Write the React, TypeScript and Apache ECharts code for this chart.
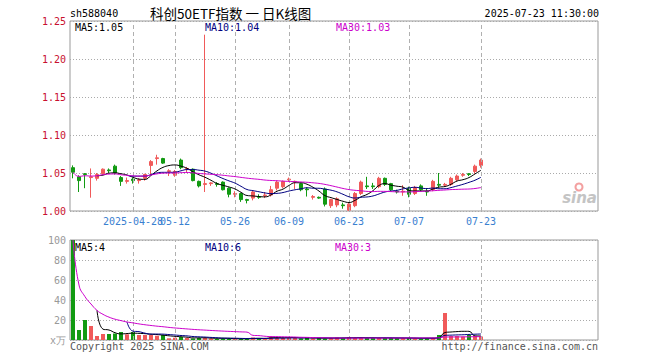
import React, { useEffect, useRef } from "react";
import * as echarts from "echarts";

const dates: string[] = [
  "2025-04-14", "2025-04-15", "2025-04-16", "2025-04-17", "2025-04-18",
  "2025-04-21", "2025-04-22", "2025-04-23", "2025-04-24", "2025-04-25",
  "2025-04-28", "2025-04-29", "2025-04-30", "2025-05-06", "2025-05-07",
  "2025-05-08", "2025-05-09", "2025-05-12", "2025-05-13", "2025-05-14",
  "2025-05-15", "2025-05-16", "2025-05-19", "2025-05-20", "2025-05-21",
  "2025-05-22", "2025-05-23", "2025-05-26", "2025-05-27", "2025-05-28",
  "2025-05-29", "2025-05-30", "2025-06-03", "2025-06-04", "2025-06-05",
  "2025-06-06", "2025-06-09", "2025-06-10", "2025-06-11", "2025-06-12",
  "2025-06-13", "2025-06-16", "2025-06-17", "2025-06-18", "2025-06-19",
  "2025-06-20", "2025-06-23", "2025-06-24", "2025-06-25", "2025-06-26",
  "2025-06-27", "2025-06-30", "2025-07-01", "2025-07-02", "2025-07-03",
  "2025-07-04", "2025-07-07", "2025-07-08", "2025-07-09", "2025-07-10",
  "2025-07-11", "2025-07-14", "2025-07-15", "2025-07-16", "2025-07-17",
  "2025-07-18", "2025-07-21", "2025-07-22", "2025-07-23",
];

// [open, close, low, high]
const ohlc: number[][] = [
  [1.057, 1.051, 1.043, 1.060], [1.045, 1.040, 1.025, 1.047], [1.049, 1.048, 1.030, 1.050],
  [1.044, 1.045, 1.0175, 1.056], [1.043, 1.048, 1.040, 1.050], [1.049, 1.055, 1.048, 1.056],
  [1.054, 1.053, 1.050, 1.056], [1.059, 1.050, 1.048, 1.061], [1.044, 1.039, 1.033, 1.046],
  [1.039, 1.040, 1.036, 1.044], [1.042, 1.040, 1.036, 1.044], [1.040, 1.041, 1.036, 1.043],
  [1.043, 1.048, 1.040, 1.049], [1.060, 1.065, 1.048, 1.067], [1.069, 1.070, 1.061, 1.074],
  [1.069, 1.063, 1.062, 1.070], [1.052, 1.053, 1.046, 1.055], [1.047, 1.052, 1.045, 1.054],
  [1.067, 1.057, 1.055, 1.069], [1.055, 1.056, 1.051, 1.058], [1.055, 1.040, 1.039, 1.056],
  [1.039, 1.033, 1.031, 1.040], [1.035, 1.036, 1.025, 1.232], [1.036, 1.037, 1.033, 1.038],
  [1.036, 1.035, 1.032, 1.038], [1.038, 1.028, 1.027, 1.039], [1.030, 1.022, 1.018, 1.031],
  [1.022, 1.023, 1.018, 1.026], [1.023, 1.015, 1.012, 1.024], [1.015, 1.014, 1.010, 1.016],
  [1.017, 1.025, 1.014, 1.027], [1.019, 1.018, 1.016, 1.022], [1.020, 1.021, 1.017, 1.025],
  [1.021, 1.028, 1.019, 1.033], [1.030, 1.038, 1.027, 1.040], [1.032, 1.039, 1.030, 1.040],
  [1.041, 1.042, 1.039, 1.044], [1.038, 1.039, 1.029, 1.040], [1.036, 1.028, 1.026, 1.037],
  [1.029, 1.028, 1.019, 1.031], [1.018, 1.019, 1.015, 1.021], [1.018, 1.017, 1.016, 1.019],
  [1.029, 1.009, 1.006, 1.031], [1.007, 1.015, 1.004, 1.016], [1.008, 1.016, 1.005, 1.018],
  [1.008, 1.007, 1.003, 1.011], [1.001, 1.009, 1.000, 1.011], [1.007, 1.023, 1.005, 1.025],
  [1.023, 1.038, 1.021, 1.040], [1.033, 1.032, 1.029, 1.045], [1.033, 1.032, 1.029, 1.037],
  [1.032, 1.043, 1.030, 1.045], [1.043, 1.035, 1.033, 1.044], [1.036, 1.028, 1.026, 1.037],
  [1.026, 1.025, 1.023, 1.028], [1.025, 1.026, 1.020, 1.034], [1.030, 1.022, 1.018, 1.032],
  [1.023, 1.031, 1.021, 1.033], [1.033, 1.028, 1.026, 1.035], [1.026, 1.025, 1.020, 1.030],
  [1.028, 1.039, 1.026, 1.041], [1.035, 1.034, 1.031, 1.050], [1.034, 1.035, 1.032, 1.037],
  [1.035, 1.043, 1.033, 1.045], [1.041, 1.046, 1.039, 1.048], [1.047, 1.048, 1.045, 1.050],
  [1.049, 1.048, 1.046, 1.050], [1.052, 1.059, 1.049, 1.061], [1.060, 1.067, 1.057, 1.069],
];

// volume in 万
const volumes: number[] = [
  100, 10, 20, 14, 4, 6, 6, 6.5, 8, 5.7,
  8, 5, 5, 5, 4.3, 5, 1.7, 2.3, 3, 2,
  1.5, 2, 2.5, 1.5, 1.2, 1.5, 1.2, 1.5, 1, 1.2,
  2.5, 2, 1.5, 3.5, 2.5, 2, 2.5, 2, 1.5, 2.5,
  1.5, 2, 1.5, 2, 2.5, 2, 3, 2, 2.5, 2,
  2, 2, 2, 2, 1.8, 1.8, 2, 1.5, 1.5, 2,
  2, 5, 27, 4, 4, 3.5, 5, 4, 3.5,
];

const labelDates: string[] = ["2025-04-28", "2025-05-12", "2025-05-26", "2025-06-09", "2025-06-23", "2025-07-07", "2025-07-23"];
const totalSlots = 88;

const RED = "#f05a5a";
const GREEN = "#129a12";
const MONO = '"DejaVu Sans Mono", "Liberation Mono", monospace';

function movingAvg(vals: number[], n: number, partial: boolean): (number | string)[] {
  const out: (number | string)[] = [];
  for (let i = 0; i < vals.length; i++) {
    if (i < n - 1 && !partial) { out.push("-"); continue; }
    const s = Math.max(0, i - n + 1);
    let sum = 0;
    for (let j = s; j <= i; j++) sum += vals[j];
    out.push(sum / (i - s + 1));
  }
  return out;
}

export default function App() {
  const ref = useRef<HTMLDivElement>(null);
  useEffect(() => {
    if (!ref.current) return;
    const chart = echarts.init(ref.current, undefined, { renderer: "svg" });
    const cats: string[] = dates.slice();
    for (let i = dates.length; i < totalSlots; i++) cats.push("_" + i);
    const labelIdx = labelDates.map((d) => cats.indexOf(d));
    const closes = ohlc.map((d) => d[1]);
    const pMA5 = movingAvg(closes, 5, false);
    const pMA10 = movingAvg(closes, 10, false);
    const pMA30 = movingAvg(closes, 30, true);
    const vMA5 = movingAvg(volumes, 5, false);
    const vMA10 = movingAvg(volumes, 10, false);
    const vMA30 = movingAvg(volumes, 30, true);
    const last = (a: (number | string)[]) => a[a.length - 1] as number;
    const volData = volumes.map((v, i) => ({
      value: v,
      itemStyle: { color: ohlc[i][1] >= ohlc[i][0] ? RED : GREEN },
    }));
    const markLine = {
      symbol: ["none", "none"],
      silent: true,
      label: { show: false },
      lineStyle: { color: "#b0b0b0", type: [4, 3], width: 1 },
      data: labelDates.map((d) => ({ xAxis: d })),
    };
    const maLine = (name: string, data: any, color: string, xi: number) => ({
      name,
      type: "line",
      xAxisIndex: xi,
      yAxisIndex: xi,
      data,
      showSymbol: false,
      smooth: true,
      z: 5,
      lineStyle: { color, width: 1 },
      itemStyle: { color },
    });
    const txt = (text: string, x: number, y: number, fill: string, font: string, align = "left") => ({
      type: "text",
      x,
      y,
      z: 10,
      style: { text, fill, font, align, textAlign: align, verticalAlign: "middle", textVerticalAlign: "middle" },
    });
    const dateLabel = {
      color: "#3a80d0", fontFamily: MONO, fontSize: 10, margin: 5, hideOverlap: false,
    };
    chart.setOption({
      animation: false,
      backgroundColor: "#ffffff",
      grid: [
        { left: 70, top: 21, width: 528, height: 190, show: true, borderColor: "#999", borderWidth: 1, backgroundColor: "transparent" },
        { left: 70, top: 240, width: 528, height: 100, show: true, borderColor: "#999", borderWidth: 1, backgroundColor: "transparent" },
      ],
      xAxis: [
        {
          type: "category", gridIndex: 0, data: cats, boundaryGap: true,
          axisLine: { show: false }, axisTick: { show: false }, splitLine: { show: false },
          axisLabel: {
            ...dateLabel,
            interval: (i: number) => i !== labelIdx[0] && labelIdx.indexOf(i) >= 0,
            formatter: (v: string) => v.slice(5),
          },
        },
        {
          type: "category", gridIndex: 1, data: cats, boundaryGap: true,
          axisLine: { show: false }, axisTick: { show: false }, splitLine: { show: false }, axisLabel: { show: false },
        },
        {
          type: "category", gridIndex: 0, data: cats, boundaryGap: true, position: "bottom",
          axisLine: { show: false }, axisTick: { show: false }, splitLine: { show: false },
          axisLabel: {
            ...dateLabel,
            interval: (i: number) => i === labelIdx[0],
          },
        },
      ],
      yAxis: [
        {
          type: "value", gridIndex: 0, min: 1.0, max: 1.25, interval: 0.05,
          axisLine: { show: false }, axisTick: { show: false },
          axisLabel: { formatter: (v: number) => v.toFixed(2), color: "#c8102e", fontFamily: MONO, fontSize: 10, margin: 4 },
          splitLine: { show: true, lineStyle: { color: "#aaa", type: [1, 2], width: 1 } },
        },
        {
          type: "value", gridIndex: 1, min: 0, max: 100, interval: 20,
          axisLine: { show: false }, axisTick: { show: false },
          axisLabel: { formatter: (v: number) => (v === 0 ? "x万" : String(v)), color: "#999", fontFamily: MONO, fontSize: 10, margin: 4 },
          splitLine: { show: true, lineStyle: { color: "#aaa", type: [1, 2], width: 1 } },
        },
      ],
      series: [
        {
          name: "K", type: "candlestick", xAxisIndex: 0, yAxisIndex: 0, data: ohlc, barWidth: 4,
          itemStyle: { color: RED, color0: GREEN, borderColor: RED, borderColor0: GREEN, borderWidth: 1 },
          markLine,
        },
        maLine("MA5", pMA5, "#000000", 0),
        maLine("MA10", pMA10, "#000080", 0),
        maLine("MA30", pMA30, "#cc00cc", 0),
        { name: "VOL", type: "bar", xAxisIndex: 1, yAxisIndex: 1, data: volData, barWidth: 4, markLine },
        maLine("VMA5", vMA5, "#000000", 1),
        maLine("VMA10", vMA10, "#000080", 1),
        maLine("VMA30", vMA30, "#cc00cc", 1),
      ],
      graphic: [
        txt("sh588040", 70, 13, "#000", `10px ${MONO}`),
        txt("科创50ETF指数 一 日K线图", 150, 13, "#000", '13.5px "Noto Sans CJK SC", sans-serif'),
        txt("2025-07-23 11:30:00", 599, 13, "#000", `10px ${MONO}`, "right"),
        txt("MA5:" + last(pMA5).toFixed(2), 75, 27, "#000", `10px ${MONO}`),
        txt("MA10:" + last(pMA10).toFixed(2), 205, 27, "#000080", `10px ${MONO}`),
        txt("MA30:" + last(pMA30).toFixed(2), 336, 27, "#cc00cc", `10px ${MONO}`),
        txt("MA5:" + Math.round(last(vMA5)), 75, 247, "#000", `10px ${MONO}`),
        txt("MA10:" + Math.round(last(vMA10)), 205, 247, "#000080", `10px ${MONO}`),
        txt("MA30:" + Math.round(last(vMA30)), 335, 247, "#cc00cc", `10px ${MONO}`),
        txt("Copyright 2025 SINA.COM", 70, 346, "#555", `10px ${MONO}`),
        txt("http://finance.sina.com.cn", 598, 346, "#555", `10px ${MONO}`, "right"),
        { type: "ring", z: 9, shape: { cx: 579, cy: 187, r: 4.5, r0: 2.5 }, style: { fill: "#f3a0a0" } },
        txt("sina", 597, 198, "#c4c4c4", 'italic bold 15px "DejaVu Sans", sans-serif', "right"),
      ],
    });
    return () => chart.dispose();
  }, []);
  return <div ref={ref} style={{ position: "fixed", left: 0, top: 0, width: 660, height: 360 }} />;
}
